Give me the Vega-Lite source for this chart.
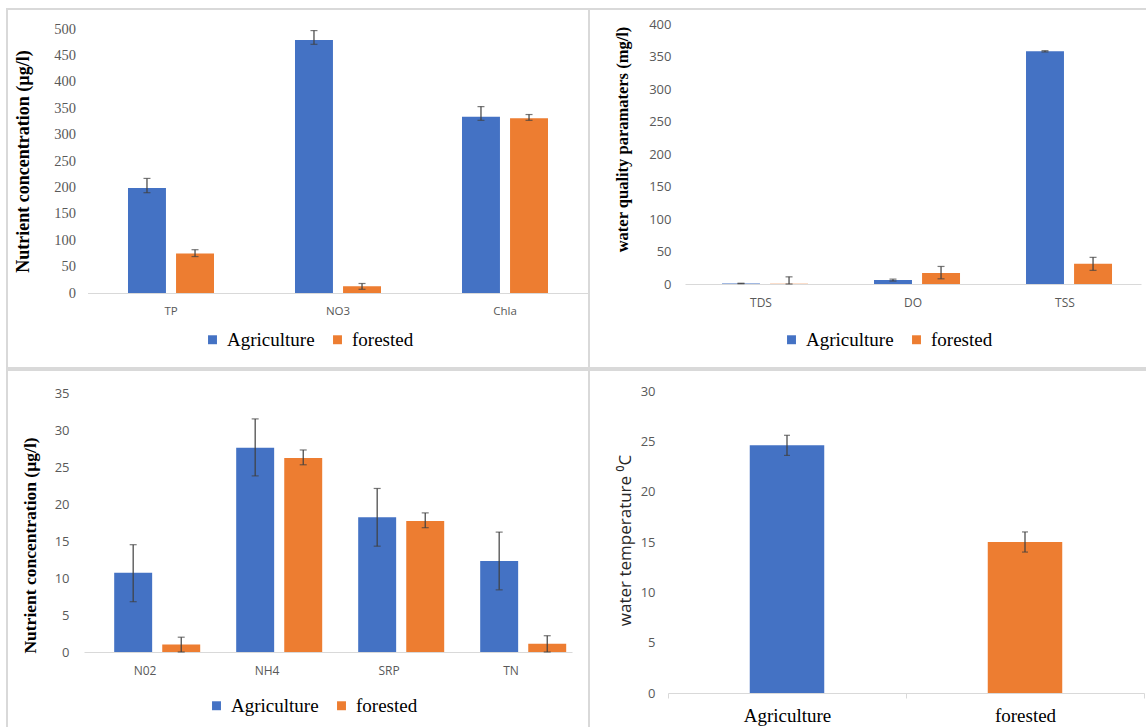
{
  "$schema": "https://vega.github.io/schema/vega-lite/v6.json",
  "padding": {"left": 6, "top": 8, "right": 0, "bottom": 0},
  "background": "white",
  "config": {
    "view": {"stroke": "#d9d9d9", "strokeWidth": 2},
    "concat": {"spacing": 0},
    "legend": {"labelFont": "Liberation Serif", "labelFontSize": 19, "labelColor": "black"},
    "axis": {"labelOverlap": false}
  },
  "datasets": {
    "tl": [
      {"param": "TP", "site": "Agriculture", "value": 199, "lo": 190, "hi": 217},
      {"param": "TP", "site": "forested", "value": 75, "lo": 69, "hi": 82},
      {"param": "NO3", "site": "Agriculture", "value": 479, "lo": 471, "hi": 497},
      {"param": "NO3", "site": "forested", "value": 13, "lo": 7, "hi": 18},
      {"param": "Chla", "site": "Agriculture", "value": 334, "lo": 327, "hi": 353},
      {"param": "Chla", "site": "forested", "value": 331, "lo": 327, "hi": 338}
    ],
    "tr": [
      {"param": "TDS", "site": "Agriculture", "value": 0.8, "lo": 0.5, "hi": 1.2},
      {"param": "TDS", "site": "forested", "value": 0.5, "lo": 0, "hi": 11},
      {"param": "DO", "site": "Agriculture", "value": 6, "lo": 4.5, "hi": 7.5},
      {"param": "DO", "site": "forested", "value": 17, "lo": 8, "hi": 27},
      {"param": "TSS", "site": "Agriculture", "value": 358, "lo": 357, "hi": 359},
      {"param": "TSS", "site": "forested", "value": 31, "lo": 21, "hi": 41}
    ],
    "bl": [
      {"param": "N02", "site": "Agriculture", "value": 10.7, "lo": 6.8, "hi": 14.5},
      {"param": "N02", "site": "forested", "value": 1.0, "lo": 0, "hi": 2.0},
      {"param": "NH4", "site": "Agriculture", "value": 27.6, "lo": 23.8, "hi": 31.5},
      {"param": "NH4", "site": "forested", "value": 26.2, "lo": 25.3, "hi": 27.3},
      {"param": "SRP", "site": "Agriculture", "value": 18.2, "lo": 14.3, "hi": 22.1},
      {"param": "SRP", "site": "forested", "value": 17.7, "lo": 16.8, "hi": 18.8},
      {"param": "TN", "site": "Agriculture", "value": 12.3, "lo": 8.4, "hi": 16.2},
      {"param": "TN", "site": "forested", "value": 1.1, "lo": 0, "hi": 2.2}
    ],
    "br": [
      {"site": "Agriculture", "value": 24.6, "lo": 23.6, "hi": 25.6},
      {"site": "forested", "value": 15.0, "lo": 14.0, "hi": 16.0}
    ]
  },
  "resolve": {"scale": {"color": "independent"}, "legend": {"color": "independent"}},
  "vconcat": [
    {
      "resolve": {"scale": {"color": "independent"}, "legend": {"color": "independent"}},
      "bounds": "flush",
      "spacing": 0,
      "hconcat": [
        {
          "width": 582, "height": 359,
          "data": {"name": "tl"},
          "encoding": {
            "x": {"field": "param", "type": "nominal", "sort": ["TP", "NO3", "Chla"], "title": null,
                  "scale": {"range": [80.5, 581.5], "paddingInner": 0.485, "paddingOuter": 0.2425},
                  "axis": {"offset": -75, "labelAngle": 0, "domainColor": "#d9d9d9", "domainWidth": 1, "ticks": false, "tickSize": 0, "labelPadding": 12, "labelFont": "Open Sans", "labelFontSize": 11.5, "labelColor": "#595959"}},
            "xOffset": {"field": "site", "type": "nominal", "sort": ["Agriculture", "forested"], "scale": {"paddingInner": 0.21, "paddingOuter": 0}}
          },
          "layer": [
            {"mark": {"type": "bar"},
             "encoding": {
               "y": {"field": "value", "type": "quantitative", "title": "Nutrient concentration  (µg/l)",
                     "scale": {"domain": [0, 500], "range": [284, 20], "nice": false},
                     "axis": {"offset": -80.5, "values": [0, 50, 100, 150, 200, 250, 300, 350, 400, 450, 500], "labelOverlap": false, "domain": false, "ticks": false, "tickSize": 0, "grid": false, "labelPadding": 12, "labelFont": "Liberation Serif", "labelFontSize": 14.5, "labelColor": "#595959", "titleFont": "Liberation Serif", "titleFontWeight": "bold", "titleFontSize": 18, "titleColor": "black", "titleX": -64.5, "titleY": 152, "titleAngle": -90, "titleBaseline": "middle", "titleAlign": "center"}},
               "color": {"field": "site", "type": "nominal", "scale": {"domain": ["Agriculture", "forested"], "range": ["#4472C4", "#ED7D31"]},
                         "legend": {"orient": "none", "legendX": 196, "legendY": 321, "direction": "horizontal", "title": null, "symbolType": "square", "symbolSize": 80, "symbolStrokeWidth": 0, "labelFont": "Liberation Serif", "labelFontSize": 19, "labelColor": "black", "columnPadding": 13, "labelOffset": 5}}
             }},
            {"mark": {"type": "rule", "color": "#404040", "strokeWidth": 1.2},
             "encoding": {"y": {"field": "lo", "type": "quantitative", "title": "Nutrient concentration  (µg/l)",
                     "axis": {"offset": -80.5, "values": [0, 50, 100, 150, 200, 250, 300, 350, 400, 450, 500], "labelOverlap": false, "domain": false, "ticks": false, "tickSize": 0, "grid": false, "labelPadding": 12, "labelFont": "Liberation Serif", "labelFontSize": 14.5, "labelColor": "#595959", "titleFont": "Liberation Serif", "titleFontWeight": "bold", "titleFontSize": 18, "titleColor": "black", "titleX": -64.5, "titleY": 152, "titleAngle": -90, "titleBaseline": "middle", "titleAlign": "center"}}, "y2": {"field": "hi"}}},
            {"mark": {"type": "tick", "color": "#404040", "thickness": 1.2, "size": 7},
             "encoding": {"y": {"field": "lo", "type": "quantitative", "title": "Nutrient concentration  (µg/l)",
                     "axis": {"offset": -80.5, "values": [0, 50, 100, 150, 200, 250, 300, 350, 400, 450, 500], "labelOverlap": false, "domain": false, "ticks": false, "tickSize": 0, "grid": false, "labelPadding": 12, "labelFont": "Liberation Serif", "labelFontSize": 14.5, "labelColor": "#595959", "titleFont": "Liberation Serif", "titleFontWeight": "bold", "titleFontSize": 18, "titleColor": "black", "titleX": -64.5, "titleY": 152, "titleAngle": -90, "titleBaseline": "middle", "titleAlign": "center"}}}},
            {"mark": {"type": "tick", "color": "#404040", "thickness": 1.2, "size": 7},
             "encoding": {"y": {"field": "hi", "type": "quantitative", "title": "Nutrient concentration  (µg/l)",
                     "axis": {"offset": -80.5, "values": [0, 50, 100, 150, 200, 250, 300, 350, 400, 450, 500], "labelOverlap": false, "domain": false, "ticks": false, "tickSize": 0, "grid": false, "labelPadding": 12, "labelFont": "Liberation Serif", "labelFontSize": 14.5, "labelColor": "#595959", "titleFont": "Liberation Serif", "titleFontWeight": "bold", "titleFontSize": 18, "titleColor": "black", "titleX": -64.5, "titleY": 152, "titleAngle": -90, "titleBaseline": "middle", "titleAlign": "center"}}}}
          ]
        },
        {
          "width": 558, "height": 359,
          "data": {"name": "tr"},
          "encoding": {
            "x": {"field": "param", "type": "nominal", "sort": ["TDS", "DO", "TSS"], "title": null,
                  "scale": {"range": [96, 552], "paddingInner": 0.487, "paddingOuter": 0.2435},
                  "axis": {"offset": -84, "labelAngle": 0, "domainColor": "#d9d9d9", "domainWidth": 1, "ticks": false, "tickSize": 0, "labelPadding": 13, "labelFont": "Open Sans", "labelFontSize": 12, "labelColor": "#595959"}},
            "xOffset": {"field": "site", "type": "nominal", "sort": ["Agriculture", "forested"], "scale": {"paddingInner": 0.207, "paddingOuter": 0}}
          },
          "layer": [
            {"mark": {"type": "bar"},
             "encoding": {
               "y": {"field": "value", "type": "quantitative", "title": "water quality  paramaters (mg/l)",
                     "scale": {"domain": [0, 400], "range": [275, 15], "nice": false},
                     "axis": {"offset": -96, "values": [0, 50, 100, 150, 200, 250, 300, 350, 400], "labelOverlap": false, "domain": false, "ticks": false, "tickSize": 0, "grid": false, "labelPadding": 14, "labelFont": "Open Sans", "labelFontSize": 13, "labelColor": "#595959", "titleFont": "Liberation Serif", "titleFontWeight": "bold", "titleFontSize": 16.5, "titleColor": "black", "titleX": -63, "titleY": 130, "titleAngle": -90, "titleBaseline": "middle", "titleAlign": "center"}},
               "color": {"field": "site", "type": "nominal", "scale": {"domain": ["Agriculture", "forested"], "range": ["#4472C4", "#ED7D31"]},
                         "legend": {"orient": "none", "legendX": 193, "legendY": 321, "direction": "horizontal", "title": null, "symbolType": "square", "symbolSize": 80, "symbolStrokeWidth": 0, "labelFont": "Liberation Serif", "labelFontSize": 19, "labelColor": "black", "columnPadding": 13, "labelOffset": 5}}
             }},
            {"mark": {"type": "rule", "color": "#404040", "strokeWidth": 1.2},
             "encoding": {"y": {"field": "lo", "type": "quantitative", "title": "water quality  paramaters (mg/l)"}, "y2": {"field": "hi"}}},
            {"mark": {"type": "tick", "color": "#404040", "thickness": 1.2, "size": 7},
             "encoding": {"y": {"field": "lo", "type": "quantitative", "title": "water quality  paramaters (mg/l)"}}},
            {"mark": {"type": "tick", "color": "#404040", "thickness": 1.2, "size": 7},
             "encoding": {"y": {"field": "hi", "type": "quantitative", "title": "water quality  paramaters (mg/l)"}}}
          ]
        }
      ]
    },
    {
      "resolve": {"scale": {"color": "independent"}, "legend": {"color": "independent"}},
      "bounds": "flush",
      "spacing": 0,
      "hconcat": [
        {
          "width": 582, "height": 360,
          "data": {"name": "bl"},
          "encoding": {
            "x": {"field": "param", "type": "nominal", "sort": ["N02", "NH4", "SRP", "TN"], "title": null,
                  "scale": {"range": [77, 565], "paddingInner": 0.495, "paddingOuter": 0.2475},
                  "axis": {"offset": -78, "labelAngle": 0, "domainColor": "#d9d9d9", "domainWidth": 1, "ticks": false, "tickSize": 0, "labelPadding": 13, "labelFont": "Open Sans", "labelFontSize": 12, "labelColor": "#595959"}},
            "xOffset": {"field": "site", "type": "nominal", "sort": ["Agriculture", "forested"], "scale": {"paddingInner": 0.2, "paddingOuter": 0}}
          },
          "layer": [
            {"mark": {"type": "bar"},
             "encoding": {
               "y": {"field": "value", "type": "quantitative", "title": "Nutrient concentration (µg/l)",
                     "scale": {"domain": [0, 35], "range": [282, 23], "nice": false},
                     "axis": {"offset": -77, "values": [0, 5, 10, 15, 20, 25, 30, 35], "labelOverlap": false, "domain": false, "ticks": false, "tickSize": 0, "grid": false, "labelPadding": 15, "labelFont": "Open Sans", "labelFontSize": 13, "labelColor": "#595959", "titleFont": "Liberation Serif", "titleFontWeight": "bold", "titleFontSize": 17.5, "titleColor": "black", "titleX": -54, "titleY": 175, "titleAngle": -90, "titleBaseline": "middle", "titleAlign": "center"}},
               "color": {"field": "site", "type": "nominal", "scale": {"domain": ["Agriculture", "forested"], "range": ["#4472C4", "#ED7D31"]},
                         "legend": {"orient": "none", "legendX": 200, "legendY": 326, "direction": "horizontal", "title": null, "symbolType": "square", "symbolSize": 80, "symbolStrokeWidth": 0, "labelFont": "Liberation Serif", "labelFontSize": 19, "labelColor": "black", "columnPadding": 13, "labelOffset": 5}}
             }},
            {"mark": {"type": "rule", "color": "#404040", "strokeWidth": 1.2},
             "encoding": {"y": {"field": "lo", "type": "quantitative", "title": "Nutrient concentration (µg/l)"}, "y2": {"field": "hi"}}},
            {"mark": {"type": "tick", "color": "#404040", "thickness": 1.2, "size": 7},
             "encoding": {"y": {"field": "lo", "type": "quantitative", "title": "Nutrient concentration (µg/l)"}}},
            {"mark": {"type": "tick", "color": "#404040", "thickness": 1.2, "size": 7},
             "encoding": {"y": {"field": "hi", "type": "quantitative", "title": "Nutrient concentration (µg/l)"}}}
          ]
        },
        {
          "width": 558, "height": 360,
          "data": {"name": "br"},
          "encoding": {
            "x": {"field": "site", "type": "nominal", "sort": ["Agriculture", "forested"], "title": null,
                  "scale": {"range": [79, 555], "paddingInner": 0, "paddingOuter": 0},
                  "axis": {"offset": -37, "labelAngle": 0, "domainColor": "#d9d9d9", "domainWidth": 1, "ticks": true, "tickBand": "extent", "tickSize": 5, "tickColor": "#d9d9d9", "labelPadding": 8, "labelFont": "Liberation Serif", "labelFontSize": 19, "labelColor": "black"}}
          },
          "layer": [
            {"mark": {"type": "bar", "width": {"band": 0.313}},
             "encoding": {
               "y": {"field": "value", "type": "quantitative", "title": "water temperature ⁰C",
                     "scale": {"domain": [0, 30], "range": [323, 21], "nice": false},
                     "axis": {"offset": -79, "values": [0, 5, 10, 15, 20, 25, 30], "labelOverlap": false, "domain": false, "ticks": false, "tickSize": 0, "grid": false, "labelPadding": 13, "labelFont": "Open Sans", "labelFontSize": 13, "labelColor": "#595959", "titleFont": "Open Sans", "titleFontWeight": "normal", "titleFontSize": 17, "titleColor": "#262626", "titleX": -43, "titleY": 170, "titleAngle": -90, "titleBaseline": "middle", "titleAlign": "center"}},
               "color": {"field": "site", "type": "nominal", "scale": {"domain": ["Agriculture", "forested"], "range": ["#4472C4", "#ED7D31"]}, "legend": null}
             }},
            {"mark": {"type": "rule", "color": "#404040", "strokeWidth": 1.2},
             "encoding": {"y": {"field": "lo", "type": "quantitative", "title": "water temperature ⁰C"}, "y2": {"field": "hi"}}},
            {"mark": {"type": "tick", "color": "#404040", "thickness": 1.2, "size": 6},
             "encoding": {"y": {"field": "lo", "type": "quantitative", "title": "water temperature ⁰C"}}},
            {"mark": {"type": "tick", "color": "#404040", "thickness": 1.2, "size": 6},
             "encoding": {"y": {"field": "hi", "type": "quantitative", "title": "water temperature ⁰C"}}}
          ]
        }
      ]
    }
  ]
}
